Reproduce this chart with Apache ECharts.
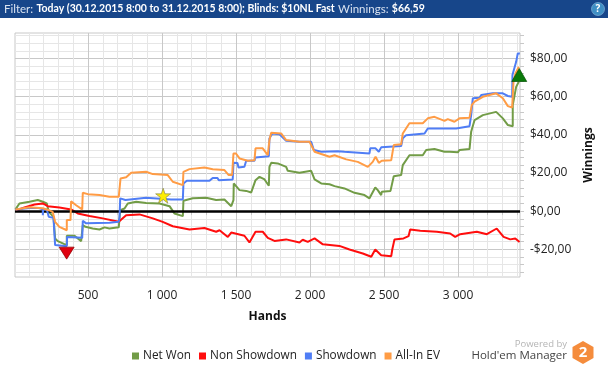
<!DOCTYPE html>
<html><head><meta charset="utf-8">
<style>html,body{margin:0;padding:0;background:#fff}#c{width:608px;height:369px}</style>
<script src="https://cdn.jsdelivr.net/npm/echarts@6/dist/echarts.min.js"></script></head>
<body><div id="c"></div>
<script>
const xMajor=[500,1000,1500,2000,2500,3000];
const xMinor=[100,200,300,400,500,600,700,800,900,1000,1100,1200,1300,1400,1500,1600,1700,1800,1900,2000,2100,2200,2300,2400,2500,2600,2700,2800,2900,3000,3100,3200,3300,3400];
const yMajor=[-20,0,20,40,60,80];
const yMinor=[-32,-28,-24,-20,-16,-12,-8,-4,0,4,8,12,16,20,24,28,32,36,40,44,48,52,56,60,64,68,72,76,80,84,88,92];
const netWon=[[10,0.9],[37,4.0],[105,4.9],[161,5.8],[195,4.9],[222,4.0],[235,-0.4],[267,-3.0],[278,-14.3],[296,-15.7],[341,-17.3],[357,-17.8],[357,-12.9],[409,-12.9],[454,-15.7],[465,-15.9],[465,-7.3],[483,-8.2],[532,-9.1],[578,-9.6],[611,-8.5],[645,-9.1],[708,-8.5],[713,-8.2],[718,0.5],[747,1.4],[769,4.0],[826,4.9],[893,4.3],[983,4.0],[1051,2.6],[1084,-1.2],[1141,-2.6],[1145,5.4],[1208,6.7],[1299,7.0],[1366,5.8],[1422,6.1],[1468,2.6],[1483,5.8],[1485,14.5],[1524,11.0],[1569,10.6],[1603,9.8],[1632,16.2],[1659,18.0],[1693,16.6],[1722,13.3],[1726,23.2],[1738,25.3],[1782,25.0],[1839,23.2],[1850,21.1],[1929,20.1],[2008,21.1],[2031,16.6],[2076,14.5],[2132,14.1],[2166,13.1],[2233,11.9],[2301,9.6],[2368,8.4],[2402,6.7],[2441,12.4],[2458,11.0],[2481,8.4],[2485,10.1],[2544,10.6],[2566,18.3],[2616,18.9],[2627,24.1],[2672,29.3],[2762,29.3],[2785,32.0],[2841,32.5],[2909,31.1],[2943,31.1],[2999,30.8],[3010,32.0],[3078,32.5],[3089,41.6],[3112,47.7],[3168,50.3],[3258,52.0],[3303,48.6],[3337,45.1],[3370,44.5],[3370,55.5],[3393,65.1],[3411,67.8]];
const nonShowdown=[[10,0.2],[71,1.9],[139,3.5],[195,4.0],[228,2.6],[307,1.9],[386,0.9],[431,-1.2],[510,-2.6],[600,-3.8],[708,-5.6],[713,-4.7],[758,-2.1],[848,-1.7],[938,-3.8],[1005,-5.6],[1073,-7.9],[1186,-9.6],[1287,-8.8],[1366,-10.8],[1389,-10.0],[1445,-13.5],[1468,-11.2],[1557,-12.9],[1591,-16.4],[1632,-10.8],[1681,-10.8],[1715,-14.0],[1760,-15.6],[1839,-14.8],[1929,-16.4],[1951,-15.0],[1985,-16.1],[2031,-14.3],[2087,-17.4],[2199,-18.2],[2267,-20.1],[2357,-22.2],[2414,-23.9],[2441,-20.1],[2481,-23.1],[2549,-23.6],[2556,-20.1],[2571,-14.8],[2632,-14.3],[2666,-13.1],[2677,-9.6],[2745,-10.3],[2857,-10.8],[2947,-11.7],[2981,-13.5],[3015,-12.1],[3127,-10.8],[3195,-12.1],[3262,-9.1],[3308,-13.5],[3353,-14.8],[3387,-14.3],[3416,-16.2]];
const showdown=[[10,0.9],[105,1.7],[161,1.7],[195,0.9],[195,-2.1],[197,0.9],[222,0.9],[235,-3.0],[267,-3.5],[278,-17.8],[341,-18.3],[357,-18.3],[359,-13.5],[461,-14.0],[465,-5.1],[488,-6.4],[645,-6.1],[708,-5.6],[713,-3.3],[718,6.7],[753,5.8],[758,6.7],[893,7.0],[1062,6.1],[1141,6.1],[1145,14.5],[1168,15.9],[1321,15.9],[1343,17.4],[1375,17.4],[1384,16.2],[1478,16.6],[1483,25.3],[1510,25.2],[1517,22.9],[1557,23.2],[1569,26.4],[1625,26.4],[1632,28.1],[1722,28.8],[1726,38.1],[1745,40.7],[1794,40.3],[1839,36.8],[1929,36.3],[2008,36.3],[2026,32.0],[2076,31.1],[2188,31.4],[2233,31.1],[2245,30.2],[2402,30.2],[2407,32.9],[2443,32.9],[2465,31.1],[2481,33.4],[2616,34.1],[2627,38.1],[2650,39.8],[2774,40.7],[2796,43.3],[2988,43.3],[2999,44.2],[3078,44.5],[3089,50.3],[3100,59.1],[3145,59.4],[3157,60.8],[3235,61.7],[3303,61.7],[3337,60.3],[3366,59.9],[3368,71.3],[3393,78.2],[3404,82.6],[3418,82.6]];
const allInEV=[[10,0.9],[105,2.0],[195,1.5],[235,0.5],[262,-0.4],[278,-5.6],[307,-8.2],[357,-10.0],[357,-4.7],[382,-4.7],[386,5.2],[420,3.1],[461,0.9],[465,9.6],[499,8.9],[578,8.4],[645,7.5],[708,7.5],[713,7.5],[720,17.1],[758,17.7],[792,20.1],[893,20.6],[938,19.4],[1039,18.9],[1073,15.4],[1141,13.6],[1145,20.6],[1186,22.0],[1287,22.9],[1343,21.9],[1422,21.5],[1451,18.9],[1474,18.9],[1483,30.2],[1500,30.2],[1524,27.6],[1580,26.4],[1625,26.7],[1632,32.9],[1681,32.9],[1715,29.3],[1726,37.2],[1738,41.0],[1805,40.7],[1839,37.2],[1929,36.3],[1997,36.3],[2031,31.1],[2076,29.9],[2132,28.5],[2166,29.3],[2245,27.1],[2323,25.8],[2391,23.2],[2424,25.8],[2443,28.5],[2465,25.3],[2485,26.4],[2549,26.7],[2566,34.6],[2616,35.0],[2627,40.7],[2672,46.0],[2762,46.0],[2796,48.6],[2841,49.4],[2909,47.3],[2931,48.2],[2976,46.8],[3010,48.6],[3078,48.9],[3093,55.5],[3112,57.3],[3168,59.9],[3258,61.7],[3303,59.1],[3337,55.0],[3366,54.3],[3375,67.8],[3389,72.2],[3411,75.6]];
const worstPoint=[356,-22];
const bestPoint=[3414,71.3];
const starPoint=[1008,8.1];

const FONT='"Open Sans"';
const BAR='Lato';
const GREEN='#729c47',RED='#ff0d0d',BLUE='#4f7df5',ORANGE='#ff9c45';
const xFmt=v=>String(v).replace(/\B(?=(\d{3})+$)/g,' ');
const yFmt=v=>(v<0?'-$'+(-v):'$'+v)+',00';
const line=(name,data,color,z)=>({name,type:'line',data,xAxisIndex:1,yAxisIndex:1,showSymbol:false,symbol:'none',z,
  lineStyle:{color,width:2},itemStyle:{color},animation:false});
const mark=(data,symbol,size,rotate,color,border)=>({type:'scatter',data:[data],xAxisIndex:1,yAxisIndex:1,symbol,symbolSize:size,symbolRotate:rotate,z:9,clip:true,
  itemStyle:{color,borderColor:border,borderWidth:.7,opacity:1},silent:true,animation:false});
const chart=echarts.init(document.getElementById('c'),null,{renderer:'canvas'});
chart.setOption({
  animation:false,backgroundColor:'#fff',
  textStyle:{fontFamily:FONT},
  grid:{left:15,top:33,width:505,height:244,show:false},
  legend:{left:127,top:345,itemWidth:7,itemHeight:7,itemGap:8,icon:'rect',
    data:['Net Won','Non Showdown','Showdown','All-In EV'],
    selectedMode:false,textStyle:{fontFamily:FONT,fontSize:11.8,color:'#222',padding:[0,0,0,-1]}},
  xAxis:[
    {type:'value',min:7,max:3419,position:'bottom',name:'',
     axisLine:{show:false},axisLabel:{show:false},
     axisTick:{show:true,length:4,customValues:xMinor,lineStyle:{color:'#c8c8c8'}},
     splitLine:{show:true,lineStyle:{color:'#e6e6e6',width:1}}},
    {type:'value',min:7,max:3419,position:'bottom',
     name:'Hands',nameLocation:'middle',nameGap:34,nameTextStyle:{fontFamily:FONT,fontWeight:'bold',fontSize:12,color:'#111'},
     axisLine:{show:false},
     axisTick:{show:false,customValues:xMajor},
     axisLabel:{show:true,customValues:xMajor,formatter:xFmt,margin:13,fontFamily:FONT,fontSize:12,color:'#222'},
     splitLine:{show:true,lineStyle:{color:'#c8c8c8',width:1}}}
  ],
  yAxis:[
    {type:'value',min:-34.5,max:93.3,position:'right',
     axisLine:{show:false},axisLabel:{show:false},
     axisTick:{show:true,length:4,customValues:yMinor,lineStyle:{color:'#c8c8c8'}},
     splitLine:{show:true,lineStyle:{color:'#e6e6e6',width:1}}},
    {type:'value',min:-34.5,max:93.3,position:'right',
     name:'Winnings',nameLocation:'middle',nameGap:50,nameRotate:90,nameTextStyle:{fontFamily:FONT,fontWeight:'bold',fontSize:12,color:'#111'},
     axisLine:{show:false},
     axisTick:{show:false,customValues:yMajor},
     axisLabel:{show:true,customValues:yMajor,formatter:yFmt,margin:10,fontFamily:FONT,fontSize:12,color:'#222'},
     splitLine:{show:true,lineStyle:{color:'#c8c8c8',width:1}}}
  ],
  series:[
    line('Net Won',netWon,GREEN,3),
    line('Non Showdown',nonShowdown,RED,4),
    line('Showdown',showdown,BLUE,5),
    Object.assign(line('All-In EV',allInEV,ORANGE,6),{markLine:{silent:true,symbol:'none',label:{show:false},animation:false,
      lineStyle:{color:'#000',width:2.5,type:'solid'},data:[{yAxis:0}]}}),
    mark(worstPoint,'triangle',[15,12],180,'#e0000f','#8a0000'),
    mark(bestPoint,'triangle',[15,13],0,'#0a7a0a','#045004'),
    mark(starPoint,'path://M50 0 L62 36 L100 36 L69 58 L81 95 L50 72 L19 95 L31 58 L0 36 L38 36 Z',[15,15],0,'#ffee00','#8a8a50')
  ],
  graphic:[
    {type:'rect',shape:{x:0,y:0,width:608,height:18},style:{fill:'#17468a'},silent:true},
    {type:'rect',shape:{x:15,y:33,width:505,height:244},style:{fill:'none',stroke:'#c8c8c8',lineWidth:1},z:-1,silent:true,subPixelOptimize:true},
    {type:'text',left:4,top:3,style:{rich:{n:{fontFamily:BAR,fontSize:11.5,fill:'#d8e2f0'},b:{fontFamily:BAR,fontSize:10.5,fontWeight:'bold',fill:'#fff'}},
      text:"{n|Filter:} {b|Today (30.12.2015 8:00 to 31.12.2015 8:00); Blinds: $10NL Fast} {n|Winnings:} {b|$66,59}"},silent:true},
    {type:'circle',shape:{cx:598,cy:9,r:6.5},style:{fill:'#3f8fc4',stroke:'#8fc0e0',lineWidth:.6},silent:true},
    {type:'text',x:598,y:9,style:{text:'?',fontFamily:FONT,fontSize:10,fontWeight:'bold',fill:'#fff',align:'center',verticalAlign:'middle'},silent:true},
    {type:'text',x:567,y:344,style:{text:'Powered by',fontFamily:FONT,fontSize:9.5,fill:'#b5b5b5',align:'right',verticalAlign:'middle'},silent:true},
    {type:'text',x:567,y:356,style:{text:"Hold'em Manager",fontFamily:FONT,fontSize:11.5,fill:'#444',align:'right',verticalAlign:'middle'},silent:true},
    {type:'polygon',shape:{points:[[583,341],[593.5,347],[593.5,358],[583,364],[572.5,358],[572.5,347]]},style:{fill:'#f58c3c'},silent:true},
    {type:'text',x:583,y:352.5,style:{text:'2',fontFamily:FONT,fontSize:15,fontWeight:'bold',fill:'#fff',align:'center',verticalAlign:'middle'},silent:true}
  ]
});
</script></body></html>
